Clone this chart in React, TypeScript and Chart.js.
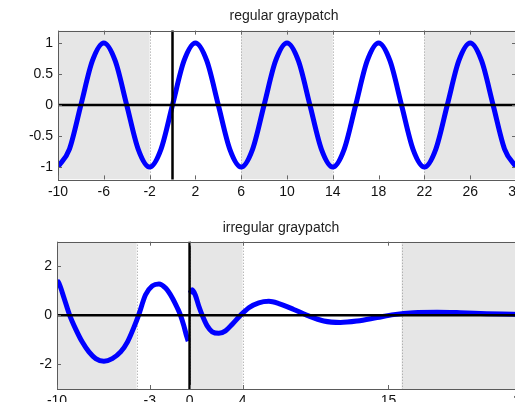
import React, { useEffect, useRef } from "react";
import { Chart, registerables } from "chart.js";

Chart.register(...registerables);

// ---------- top panel data ----------
const topTitle = "regular graypatch";
const topX = [
  -10, -9, -8, -7, -6, -5, -4, -3, -2, -1, 0, 1, 2, 3, 4, 5, 6, 7, 8, 9, 10,
  11, 12, 13, 14, 15, 16, 17, 18, 19, 20, 21, 22, 23, 24, 25, 26, 27, 28, 29, 30,
];
const topY = [
  -1, -0.71, 0, 0.71, 1, 0.71, 0, -0.71, -1, -0.71, 0, 0.71, 1, 0.71, 0, -0.71,
  -1, -0.71, 0, 0.71, 1, 0.71, 0, -0.71, -1, -0.71, 0, 0.71, 1, 0.71, 0, -0.71,
  -1, -0.71, 0, 0.71, 1, 0.71, 0, -0.71, -1,
];
const topXTicks = [-10, -6, -2, 2, 6, 10, 14, 18, 22, 26, 30];
const topYTicks = [-1, -0.5, 0, 0.5, 1];
const topXRange = [-10, 30];
const topYRange = [-1.2, 1.2];
const topPatches = [
  [-10, -2],
  [6, 14],
  [22, 30],
];

// ---------- bottom panel data ----------
const botTitle = "irregular graypatch";
const botX = [
  -10, -9.85, -9.47, -9.04, -8.59, -8.09, -7.59, -7.08, -6.46, -5.83, -5.2,
  -4.69, -4.2, -3.85, -3.32, -2.81, -2.31, -1.81, -1.3, -0.93, -0.68, -0.43,
  -0.23, -0.1, 0, 0.03, 0.2, 0.45, 0.7, 0.96, 1.33, 1.71, 2.21, 2.71, 3.22,
  3.84, 4.47, 5.22, 5.98, 6.73, 7.86, 8.87, 10.12, 11.38, 12.64, 14.14, 15.4,
  16.9, 18.67, 20.4, 22.4, 24.4, 25,
];
const botY: (number | null)[] = [
  1.42, 1.31, 0.71, 0, -0.56, -1.09, -1.49, -1.76, -1.87, -1.76, -1.49, -1.09,
  -0.49, 0, 0.84, 1.2, 1.28, 1.11, 0.71, 0.31, 0, -0.43, -0.83, -1.05, null,
  0.9, 1.04, 0.8, 0.37, 0, -0.43, -0.67, -0.73, -0.63, -0.36, 0, 0.31, 0.51,
  0.57, 0.48, 0.24, 0, -0.23, -0.29, -0.23, -0.09, 0.03, 0.11, 0.13, 0.11, 0.07,
  0.04, 0.03,
];
const botXTicks = [-10, -3, 0, 4, 15, 25];
const botYTicks = [-2, 0, 2];
const botXRange = [-10, 25];
const botYRange = [-3, 3];
const botPatches = [
  [-10, -4],
  [0, 4],
  [16, 25],
];

// ---------- layout (kept separate from data) ----------
const FONT = "'Liberation Sans', Arial, sans-serif";

type Layout = {
  top: number;
  width: number;
  height: number;
  padTop: number;
  padRight: number;
  yWidth: number;
  xHeight: number;
  titleX: number;
  titleBaseline: number;
};

const topLayout: Layout = {
  top: 0,
  width: 560,
  height: 215,
  padTop: 30.6,
  padRight: 44,
  yWidth: 58,
  xHeight: 35.6,
  titleX: 284,
  titleBaseline: 20,
};

const botLayout: Layout = {
  top: 200,
  width: 560,
  height: 202,
  padTop: 41.7,
  padRight: 39,
  yWidth: 57,
  xHeight: 13,
  titleX: 281,
  titleBaseline: 32,
};

const decor = {
  id: "decor",
  beforeDatasetsDraw(chart: any, _args: any, opts: any) {
    const { ctx, chartArea: a, scales } = chart;
    const x = scales.x;
    ctx.save();
    ctx.beginPath();
    ctx.rect(a.left, a.top, a.right - a.left, a.bottom - a.top);
    ctx.clip();
    ctx.fillStyle = "#e6e6e6";
    for (const [s, e] of opts.patches) {
      const x0 = x.getPixelForValue(s);
      const x1 = x.getPixelForValue(e);
      ctx.fillRect(x0, a.top, x1 - x0, a.bottom - a.top);
    }
    const bounds: number[] = [];
    for (const [s, e] of opts.patches) {
      for (const b of [s, e]) {
        if (b > x.min && b < x.max && !bounds.includes(b)) bounds.push(b);
      }
    }
    ctx.strokeStyle = "#9a9a9a";
    ctx.lineWidth = 1;
    ctx.setLineDash([1, 2]);
    for (const b of bounds) {
      const px = Math.round(x.getPixelForValue(b)) + 0.5;
      ctx.beginPath();
      ctx.moveTo(px, a.top);
      ctx.lineTo(px, a.bottom);
      ctx.stroke();
    }
    ctx.restore();
  },
  afterDatasetsDraw(chart: any, _args: any, opts: any) {
    const { ctx, chartArea: a, scales } = chart;
    const x = scales.x;
    const y = scales.y;
    ctx.save();
    // zero lines
    ctx.strokeStyle = "#000";
    ctx.lineWidth = 2.5;
    const y0 = y.getPixelForValue(0);
    const x0 = x.getPixelForValue(0);
    ctx.beginPath();
    ctx.moveTo(a.left, y0);
    ctx.lineTo(a.right, y0);
    ctx.moveTo(x0, a.top);
    ctx.lineTo(x0, a.bottom);
    ctx.stroke();
    // box
    ctx.strokeStyle = "#5a5a5a";
    ctx.lineWidth = 1;
    ctx.strokeRect(
      Math.round(a.left) + 0.5,
      Math.round(a.top) + 0.5,
      Math.round(a.right - a.left),
      Math.round(a.bottom - a.top)
    );
    // inward ticks
    ctx.strokeStyle = "#666";
    const tl = 4;
    ctx.beginPath();
    for (const t of x.ticks) {
      const px = Math.round(x.getPixelForValue(t.value)) + 0.5;
      ctx.moveTo(px, a.top);
      ctx.lineTo(px, a.top + tl);
      ctx.moveTo(px, a.bottom);
      ctx.lineTo(px, a.bottom - tl);
    }
    for (const t of y.ticks) {
      const py = Math.round(y.getPixelForValue(t.value)) + 0.5;
      ctx.moveTo(a.left, py);
      ctx.lineTo(a.left + tl, py);
      ctx.moveTo(a.right, py);
      ctx.lineTo(a.right - tl, py);
    }
    ctx.stroke();
    // title
    ctx.fillStyle = "#222";
    ctx.font = `14px ${FONT}`;
    ctx.textAlign = "center";
    ctx.textBaseline = "alphabetic";
    ctx.fillText(opts.title, opts.titleX, opts.titleBaseline);
    ctx.restore();
  },
};

type Spec = {
  xs: number[];
  ys: (number | null)[];
  xRange: number[];
  yRange: number[];
  xTicks: number[];
  yTicks: number[];
  patches: number[][];
  title: string;
  layout: Layout;
};

function buildConfig(spec: Spec): any {
  const L = spec.layout;
  const data = spec.xs.map((v, i) => ({ x: v, y: spec.ys[i] }));
  const tickFont = { family: FONT, size: 14 };
  return {
    type: "line",
    data: {
      datasets: [
        {
          data,
          borderColor: "#0000ff",
          borderWidth: 5,
          pointRadius: 0,
          fill: false,
          spanGaps: false,
          cubicInterpolationMode: "monotone",
        },
      ],
    },
    plugins: [decor],
    options: {
      animation: false,
      responsive: false,
      maintainAspectRatio: false,
      events: [],
      layout: {
        padding: { left: 0, top: L.padTop, right: L.padRight, bottom: 0 },
      },
      plugins: {
        legend: { display: false },
        title: { display: false },
        tooltip: { enabled: false },
        decor: {
          patches: spec.patches,
          title: spec.title,
          titleX: L.titleX,
          titleBaseline: L.titleBaseline,
        },
      },
      scales: {
        x: {
          type: "linear",
          min: spec.xRange[0],
          max: spec.xRange[1],
          grid: { display: false, drawTicks: false },
          border: { display: false },
          afterBuildTicks: (s: any) => {
            s.ticks = spec.xTicks.map((v) => ({ value: v }));
          },
          afterFit: (s: any) => {
            s.height = L.xHeight;
            s.paddingLeft = 0;
            s.paddingRight = 0;
          },
          ticks: {
            font: tickFont,
            color: "#111",
            padding: 4,
            maxRotation: 0,
            autoSkip: false,
            callback: (v: any) => String(v),
          },
        },
        y: {
          type: "linear",
          min: spec.yRange[0],
          max: spec.yRange[1],
          grid: { display: false, drawTicks: false },
          border: { display: false },
          afterBuildTicks: (s: any) => {
            s.ticks = spec.yTicks.map((v) => ({ value: v }));
          },
          afterFit: (s: any) => {
            s.width = L.yWidth;
            s.paddingTop = 0;
            s.paddingBottom = 0;
          },
          ticks: {
            font: tickFont,
            color: "#111",
            padding: 5,
            autoSkip: false,
            callback: (v: any) => String(v),
          },
        },
      },
    },
  };
}

function Panel({ spec }: { spec: Spec }) {
  const ref = useRef<HTMLCanvasElement>(null);
  useEffect(() => {
    if (!ref.current) return;
    const chart = new Chart(ref.current, buildConfig(spec));
    return () => chart.destroy();
  }, []);
  const L = spec.layout;
  return (
    <canvas
      ref={ref}
      width={L.width}
      height={L.height}
      style={{
        position: "absolute",
        left: 0,
        top: L.top,
        width: L.width,
        height: L.height,
      }}
    />
  );
}

const topSpec: Spec = {
  xs: topX,
  ys: topY,
  xRange: topXRange,
  yRange: topYRange,
  xTicks: topXTicks,
  yTicks: topYTicks,
  patches: topPatches,
  title: topTitle,
  layout: topLayout,
};

const botSpec: Spec = {
  xs: botX,
  ys: botY,
  xRange: botXRange,
  yRange: botYRange,
  xTicks: botXTicks,
  yTicks: botYTicks,
  patches: botPatches,
  title: botTitle,
  layout: botLayout,
};

export default function App() {
  return (
    <div
      style={{
        position: "fixed",
        left: 0,
        top: 0,
        width: 515,
        height: 402,
        overflow: "hidden",
        background: "#fff",
      }}
    >
      <Panel spec={topSpec} />
      <Panel spec={botSpec} />
    </div>
  );
}
